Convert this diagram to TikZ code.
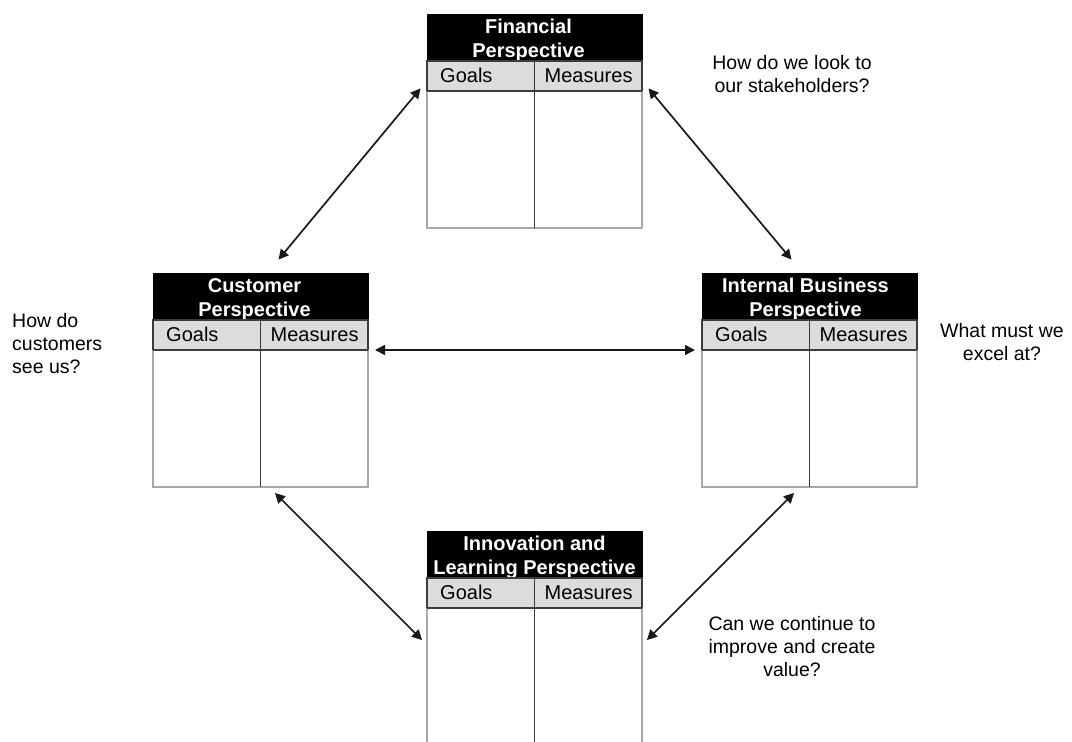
\documentclass[tikz,border=0pt]{standalone}
\usepackage{fontspec}
\setmainfont{Liberation Sans}
\usetikzlibrary{arrows.meta,calc}

\definecolor{rowgray}{HTML}{DCDCDC}
\definecolor{edgegray}{HTML}{A8A8A8}
\definecolor{rulegray}{HTML}{3C3C3C}

\tikzset{
  head/.style={fill=black, draw=black, minimum width=215pt, minimum height=47pt,
    inner sep=0pt, outer sep=0pt, anchor=north west},
  headtext/.style={text=white, font=\fontsize{20}{24}\selectfont\bfseries,
    inner sep=0pt, anchor=base},
  row/.style={fill=rowgray, draw=rulegray, line width=1.2pt, minimum width=215pt,
    minimum height=30pt, inner sep=0pt, outer sep=0pt, anchor=north west},
  rowtext/.style={font=\fontsize{20}{24}\selectfont, inner sep=0pt, anchor=base west},
  body/.style={minimum width=215pt, minimum height=137pt, inner sep=0pt,
    outer sep=0pt, anchor=north west},
  question/.style={font=\fontsize{19.5}{23.2}\selectfont, inner sep=0pt},
  link/.style={line width=1.7pt, black!90,
    {Triangle[length=10pt,width=10pt,sep=7pt]}-{Triangle[length=10pt,width=10pt,sep=7pt]}},
}

% One perspective card: black title bar, grey heading row, two-column body.
% #1 id, #2 x, #3 y (top left), #4/#5 title lines, #6 title x offset
\newcommand\drawpersp[6]{%
  \node[head] (#1-h) at (#2,#3) {};
  \node[headtext] (#1-t) at ($(#1-h.north)+(#6,19)$)
    {\begin{tabular}[t]{@{}c@{}}#4\\#5\end{tabular}};
  \node[row] (#1-g) at ($(#1-h.south west)$) {};
  \node[body] (#1-b) at ($(#1-g.south west)$) {};
  \draw[edgegray, line width=1.2pt] (#1-b.north west) |- (#1-b.south east) -- (#1-b.north east);
  \draw[rulegray, line width=1.2pt] (#1-g.north) -- (#1-b.south);
  \draw[rulegray, line width=1.2pt] (#1-g.south west) -- (#1-g.south east);
  \node[rowtext] (#1-gl) at ($(#1-g.north west)+(13,21)$) {Goals};
  \node[rowtext] (#1-ms) at ($(#1-g.north)+(10,21)$) {Measures};
}

\begin{document}
\begin{tikzpicture}[x=1pt, y=-1pt]
  \clip (0,0) rectangle (1072,742);
  \fill[white] (0,0) rectangle (1072,742);

  \drawpersp{fin}{427}{14}{Financial}{Perspective}{-6}
  \drawpersp{cust}{153}{273}{Customer}{Perspective}{-6}
  \drawpersp{int}{702}{273}{Internal Business}{Perspective}{-4}
  \drawpersp{innov}{427}{531}{Innovation and}{Learning Perspective}{0}

  % two-way links between the cards
  \draw[link] ($(cust-h.north west)+(121,-8)$) -- ($(fin-h.north west)+(-2,69)$);
  \draw[link] ($(fin-h.north east)+(2,69)$) -- ($(int-h.north east)+(-121,-8)$);
  \draw[link] (cust-b.north east) -- (int-b.north west);
  \draw[link] ($(cust-b.south west)+(117,1)$) -- ($(innov-h.north west)+(0,114)$);
  \draw[link] ($(int-b.south east)+(-118,1)$) -- ($(innov-h.north east)+(0,114)$);

  % guiding questions
  \node[question, anchor=base] (q-fin) at (792,69)
    {\begin{tabular}[t]{@{}c@{}}How do we look to\\our stakeholders?\end{tabular}};
  \node[question, anchor=base west] (q-cust) at (12,327)
    {\begin{tabular}[t]{@{}l@{}}How do\\customers\\see us?\end{tabular}};
  \node[question, anchor=base] (q-int) at (1002,337)
    {\begin{tabular}[t]{@{}c@{}}What must we\\excel at?\end{tabular}};
  \node[question, anchor=base] (q-innov) at (792,630)
    {\begin{tabular}[t]{@{}c@{}}Can we continue to\\improve and create\\value?\end{tabular}};
\end{tikzpicture}
\end{document}
